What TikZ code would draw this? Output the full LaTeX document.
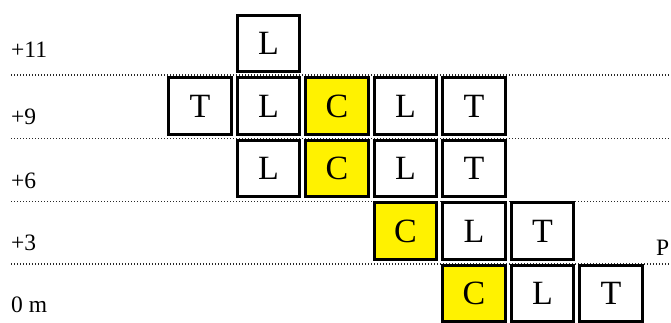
\documentclass[tikz,border=0pt]{standalone}
\usepackage{fontspec}
\setmainfont{Liberation Serif}
\definecolor{cyel}{RGB}{255,242,0}
\definecolor{dotc}{RGB}{40,40,40}
\begin{document}
\begin{tikzpicture}[x=1pt,y=-1pt,
  cell/.style={draw=black,line width=2.6pt,fill=white,minimum width=62.5pt,minimum height=56.5pt,inner sep=0pt,font=\fontsize{34}{34}\selectfont},
  core/.style={cell,fill=cyel},
  lvl/.style={anchor=base west,inner sep=0pt,font=\fontsize{23.5}{23.5}\selectfont},
  guide/.style={draw=dotc,line width=1.1pt,dash pattern=on 1.1pt off 1.9pt}]
\useasboundingbox (0,0) rectangle (671,322);
\clip (0,0) rectangle (671,322);
% dotted level lines
\foreach \yy/\nm in {75/a,138.5/b,201.5/c,264/d}{
  \coordinate (gl\nm) at (11,\yy);
  \coordinate (gr\nm) at (671,\yy);
  \draw[guide] (gl\nm) -- (gr\nm);
}
% level labels
\node[lvl] (l11) at (11,57) {+11};
\node[lvl] (l9) at (11,124) {+9};
\node[lvl] (l6) at (11,188) {+6};
\node[lvl] (l3) at (11,250) {+3};
\node[lvl] (l0) at (11,312) {0 m};
\node[lvl] (lp) at (656,255) {P};
% cells
% row +11
\node[cell] (r11c1) at (268.5,43.5) {L};
% row +9
\node[cell] (r9c0) at (200,106) {T};
\node[cell] (r9c1) at (268.5,106) {L};
\node[core] (r9c2) at (337,106) {C};
\node[cell] (r9c3) at (405.5,106) {L};
\node[cell] (r9c4) at (474,106) {T};
% row +6
\node[cell] (r6c1) at (268.5,168.5) {L};
\node[core] (r6c2) at (337,168.5) {C};
\node[cell] (r6c3) at (405.5,168.5) {L};
\node[cell] (r6c4) at (474,168.5) {T};
% row +3
\node[core] (r3c3) at (405.5,231) {C};
\node[cell] (r3c4) at (474,231) {L};
\node[cell] (r3c5) at (542.5,231) {T};
% row 0
\node[core] (r0c4) at (474,293.5) {C};
\node[cell] (r0c5) at (542.5,293.5) {L};
\node[cell] (r0c6) at (611,293.5) {T};
\end{tikzpicture}
\end{document}
